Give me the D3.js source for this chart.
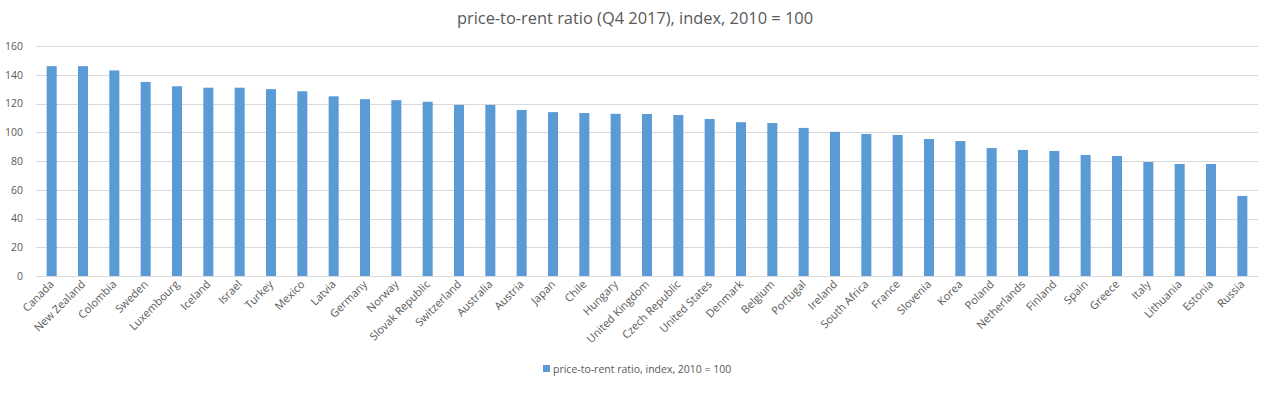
<!DOCTYPE html>
<html>
<head>
<meta charset="utf-8">
<script src="https://cdn.jsdelivr.net/npm/d3@7"></script>
<style>
  html, body { margin: 0; padding: 0; background: #fff; }
  svg { display: block; font-family: "Open Sans", sans-serif; }
</style>
</head>
<body>
<svg id="chart" width="1265" height="397"></svg>
<script>
const categories = ["Canada","New Zealand","Colombia","Sweden","Luxembourg","Iceland","Israel","Turkey","Mexico","Latvia","Germany","Norway","Slovak Republic","Switzerland","Australia","Austria","Japan","Chile","Hungary","United Kingdom","Czech Republic","United States","Denmark","Belgium","Portugal","Ireland","South Africa","France","Slovenia","Korea","Poland","Netherlands","Finland","Spain","Greece","Italy","Lithuania","Estonia","Russia"];
const values = [146, 146, 143, 135, 132, 131, 131, 130, 128.5, 125, 123, 122.3, 121.2, 119, 119, 115.5, 114, 113.4, 112.8, 112.7, 112, 109.2, 107, 106.4, 103, 100.3, 98.8, 98.1, 95.3, 93.9, 89, 87.7, 87, 84.2, 83.5, 79.3, 77.9, 77.9, 55.7];
const yTicks = [0, 20, 40, 60, 80, 100, 120, 140, 160];
const titleText = "price-to-rent ratio (Q4 2017), index, 2010 = 100";
const legendText = "price-to-rent ratio, index, 2010 = 100";

const svg = d3.select("#chart");
const pLeft = 36, pRight = 1258, pTop = 46, pBottom = 276;

const x = d3.scaleBand().domain(categories).range([pLeft, pRight]).paddingInner(0.68).paddingOuter(0.34);
const y = d3.scaleLinear().domain([0, 160]).range([pBottom, pTop]);

// gridlines
svg.append("g").selectAll("line").data(yTicks).join("line")
  .attr("x1", pLeft).attr("x2", pRight)
  .attr("y1", d => Math.round(y(d)) + 0.5).attr("y2", d => Math.round(y(d)) + 0.5)
  .attr("stroke", "#d9d9d9").attr("stroke-width", 1);

// y axis labels
const yAxis = d3.axisLeft(y).tickValues(yTicks).tickSize(0).tickPadding(0);
const gy = svg.append("g").attr("transform", `translate(${pLeft - 13},0)`).call(yAxis);
gy.select(".domain").remove();
gy.selectAll("text").attr("fill", "#595959").style("font-size", "10.5px").style("font-family", "Open Sans, sans-serif");

// bars
svg.append("g").selectAll("rect").data(values).join("rect")
  .attr("x", (d, i) => x(categories[i]))
  .attr("width", x.bandwidth())
  .attr("y", d => y(d))
  .attr("height", d => y(0) - y(d))
  .attr("fill", "#5b9bd5");

// x axis
const xAxis = d3.axisBottom(x).tickSize(0).tickPadding(0);
const gx = svg.append("g").attr("transform", `translate(0,${pBottom})`).call(xAxis);
gx.select(".domain").attr("stroke", "#d9d9d9");
gx.selectAll("text")
  .attr("fill", "#595959")
  .style("font-size", "11px").style("font-family", "Open Sans, sans-serif")
  .attr("text-anchor", "end")
  .attr("dy", "0")
  .attr("y", 0).attr("x", 0)
  .attr("transform", "translate(3,9) rotate(-45)");

// title
svg.append("text").attr("x", 635).attr("y", 23.5).attr("text-anchor", "middle")
  .attr("fill", "#595959").style("font-size", "16.4px").text(titleText);

// legend
const lg = svg.append("g").attr("transform", "translate(543,365)");
lg.append("rect").attr("x", 0).attr("y", 0).attr("width", 7).attr("height", 7).attr("fill", "#5b9bd5");
lg.append("text").attr("x", 10).attr("y", 7.5).attr("fill", "#595959").style("font-size", "10.5px").text(legendText);
</script>
</body>
</html>
